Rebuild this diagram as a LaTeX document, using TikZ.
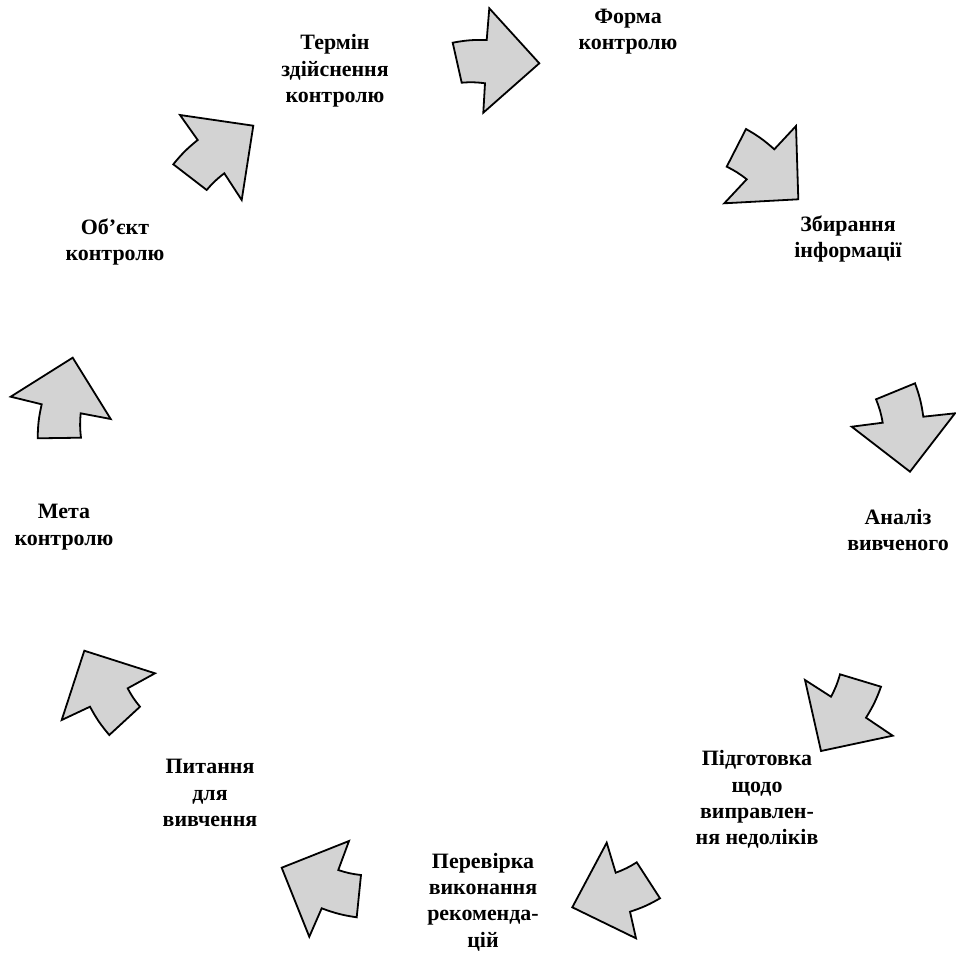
\documentclass[tikz,border=0pt]{standalone}
\usepackage{fontspec}
\setmainfont{Liberation Serif}
\usetikzlibrary{positioning}
\definecolor{arrowgrey}{RGB}{211,211,211}

\begin{document}
\begin{tikzpicture}[x=1bp,y=1bp]
\tikzstyle{every node}+=[inner sep=0pt,align=center,font=\fontsize{22}{26.5}\selectfont\bfseries]
\tikzstyle{blockarrow}=[fill=arrowgrey,draw=black,line width=1.8bp,line join=miter]
\useasboundingbox (0,0) rectangle (956,-957);
\node (termin) at (335,-71) {Термін\\здійснення\\контролю};
\node (forma) at (628,-31.5) {Форма\\контролю};
\node (zbyrannya) at (848,-239) {Збирання\\інформації};
\node (analiz) at (898,-530) {Аналіз\\вивченого};
\node (pidhotovka) at (757,-799.5) {Підготовка\\щодо\\виправлен-\\ня недоліків};
\node (perevirka) at (483,-902) {Перевірка\\виконання\\рекоменда-\\цій};
\node (pytannya) at (210,-793) {Питання\\для\\вивчення};
\node (meta) at (64,-527) {Мета\\контролю};
\node (objekt) at (115,-242) {Об’єкт\\контролю};
% arrows between the stages
\filldraw [blockarrow] (452.7,-42.7) to[bend left=6] (486.7,-40) -- (489.3,-8.3) -- (539.3,-63.3)
  -- (483.3,-112.7) -- (485,-83.3) to[bend right=6] (461.7,-82.7) -- cycle;
\filldraw [blockarrow] (746,-129) to[bend left=6] (774.3,-149.3) -- (796,-126) -- (798.3,-199.3)
  -- (724.3,-203.3) -- (746.7,-179.3) to[bend right=6] (726.7,-166.7) -- cycle;
\filldraw [blockarrow] (915,-383.3) to[bend left=6] (923.3,-416.7) -- (955,-413.3) -- (910,-471.7)
  -- (851.7,-426.7) -- (882.7,-422.7) to[bend right=6] (876,-399.3) -- cycle;
\filldraw [blockarrow] (881,-686.7) to[bend left=6] (866,-717.7) -- (892.7,-735.7) -- (821,-751)
  -- (805,-680) -- (831,-696.7) to[bend right=6] (840,-674.3) -- cycle;
\filldraw [blockarrow] (660,-898.3) to[bend left=6] (630,-911.7) -- (636,-938.3) -- (572.3,-907.3)
  -- (606.7,-842.7) -- (615.7,-872.7) to[bend right=6] (636.7,-862.3) -- cycle;
\filldraw [blockarrow] (356.7,-917.3) to[bend left=6] (321.7,-908.3) -- (309.3,-936.7) -- (281.7,-867.7)
  -- (349,-841) -- (338.3,-870) to[bend right=6] (361,-875) -- cycle;
\filldraw [blockarrow] (109.3,-735) to[bend left=6] (90,-706.7) -- (61.7,-720) -- (84.3,-650.7)
  -- (155,-673.3) -- (127.7,-688.3) to[bend right=6] (140,-706.7) -- cycle;
\filldraw [blockarrow] (37.7,-438.3) to[bend left=6] (41.7,-404.3) -- (10.7,-396.7) -- (72.7,-357.7)
  -- (110.7,-419) -- (80.7,-413.3) to[bend right=6] (81,-437.7) -- cycle;
\filldraw [blockarrow] (173.3,-164.3) to[bend left=6] (197.7,-140) -- (180,-115) -- (253.3,-125.7)
  -- (241.7,-200) -- (224.3,-173.3) to[bend right=6] (206.7,-190) -- cycle;
\end{tikzpicture}
\end{document}
